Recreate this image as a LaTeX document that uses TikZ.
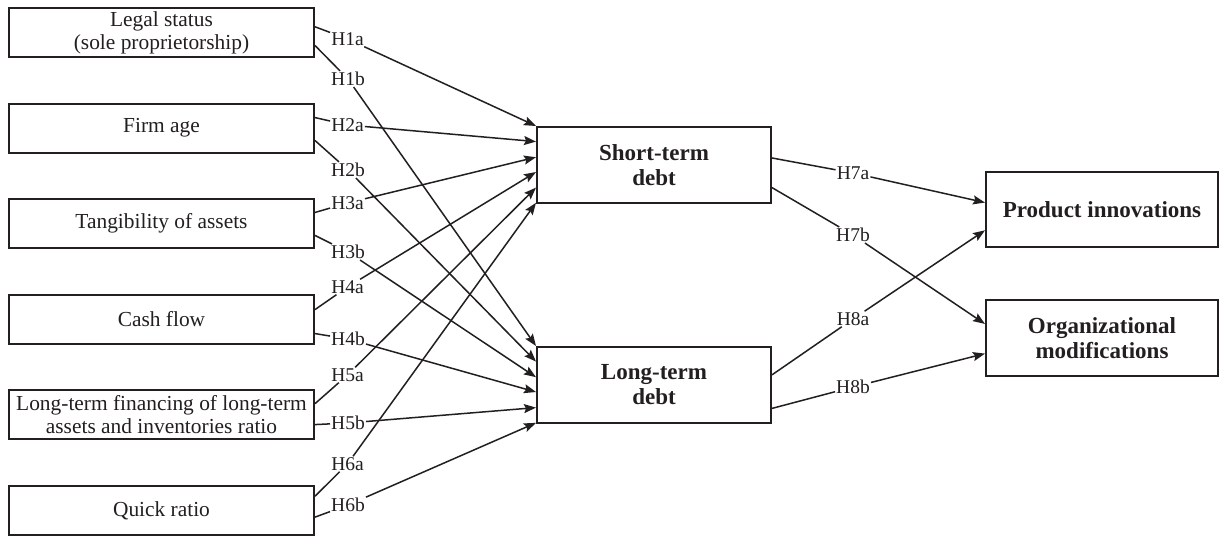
\documentclass[tikz,border=0pt]{standalone}
\usepackage{fontspec}
\setmainfont{Liberation Serif}
\usetikzlibrary{calc,arrows.meta}
\definecolor{ink}{HTML}{231F20}
\begin{document}
\begin{tikzpicture}[x=1pt,y=-1pt,
  lbox/.style={draw=ink, line width=2pt, minimum width=305pt, minimum height=49pt, inner sep=0pt, align=center, text=ink, font=\fontsize{21.4}{23}\selectfont},
  mbox/.style={draw=ink, line width=2pt, minimum width=234pt, minimum height=76pt, inner sep=0pt, align=center, text=ink, font=\fontsize{23}{25}\selectfont\bfseries},
  rbox/.style={draw=ink, line width=2pt, minimum width=232pt, inner sep=0pt, align=center, text=ink, font=\fontsize{23}{25}\selectfont\bfseries},
  hyp/.style={inner sep=1pt, text=ink, font=\fontsize{19.5}{20}\selectfont},
  conn/.style={draw=ink, line width=1.5pt},
  arr/.style={conn, -{Stealth[length=12pt,width=9pt,inset=2pt]}}
]
\path[fill=white, use as bounding box] (0,0) rectangle (1219,537);

% left boxes
\node[lbox] (b1) at (161.5,32.5) {Legal status\\(sole proprietorship)};
\node[lbox] (b2) at (161.5,128.1) {Firm age};
\node[lbox] (b3) at (161.5,223.7) {Tangibility of assets};
\node[lbox] (b4) at (161.5,319.3) {Cash flow};
\node[lbox] (b5) at (161.5,414.9) {Long-term financing of long-term\\assets and inventories ratio};
\node[lbox] (b6) at (161.5,510.5) {Quick ratio};

% middle boxes
\node[mbox] (st) at (654,165) {Short-term\\debt};
\node[mbox] (lt) at (654,385) {Long-term\\debt};

% right boxes
\node[rbox, minimum height=75pt] (pi) at (1102,209.5) {Product innovations};
\node[rbox, minimum height=76pt] (om) at (1102,338) {Organizational\\modifications};

% hypothesis labels
\node[hyp] (h1a) at (347.5,39) {H1a};
\node[hyp] (h1b) at (348,79) {H1b};
\node[hyp] (h2a) at (347.5,125) {H2a};
\node[hyp] (h2b) at (348,170) {H2b};
\node[hyp] (h3a) at (347.5,203) {H3a};
\node[hyp] (h3b) at (348,252) {H3b};
\node[hyp] (h4a) at (347.5,287) {H4a};
\node[hyp] (h4b) at (348,339) {H4b};
\node[hyp] (h5a) at (347.5,375) {H5a};
\node[hyp] (h5b) at (348,423) {H5b};
\node[hyp] (h6a) at (347.5,464) {H6a};
\node[hyp] (h6b) at (348,505) {H6b};
\node[hyp] (h7a) at (853,173) {H7a};
\node[hyp] (h7b) at (853,235) {H7b};
\node[hyp] (h8a) at (853,319) {H8a};
\node[hyp] (h8b) at (853,387) {H8b};

% left connectors to short-term debt
\draw[conn] ($(b1.north east)!0.388!(b1.south east)$) -- (h1a);
\draw[arr] (h1a) -- ($(st.north west)!0!(st.south west)$);
\draw[conn] ($(b2.north east)!0.294!(b2.south east)$) -- (h2a);
\draw[arr] (h2a) -- ($(st.north west)!0.2!(st.south west)$);
\draw[conn] ($(b3.north east)!0.28!(b3.south east)$) -- (h3a);
\draw[arr] (h3a) -- ($(st.north west)!0.4!(st.south west)$);
\draw[conn] ($(b4.north east)!0.31!(b4.south east)$) -- (h4a);
\draw[arr] (h4a) -- ($(st.north west)!0.59!(st.south west)$);
\draw[conn] ($(b5.north east)!0.28!(b5.south east)$) -- (h5a);
\draw[arr] (h5a) -- ($(st.north west)!0.79!(st.south west)$);
\draw[conn] ($(b6.north east)!0.22!(b6.south east)$) -- (h6a);
\draw[arr] (h6a) -- ($(st.north west)!0.985!(st.south west)$);

% left connectors to long-term debt
\draw[conn] ($(b1.north east)!0.755!(b1.south east)$) -- (h1b);
\draw[arr] (h1b) -- ($(lt.north west)!0!(lt.south west)$);
\draw[conn] ($(b2.north east)!0.743!(b2.south east)$) -- (h2b);
\draw[arr] (h2b) -- ($(lt.north west)!0.2!(lt.south west)$);
\draw[conn] ($(b3.north east)!0.73!(b3.south east)$) -- (h3b);
\draw[arr] (h3b) -- ($(lt.north west)!0.4!(lt.south west)$);
\draw[conn] ($(b4.north east)!0.78!(b4.south east)$) -- (h4b);
\draw[arr] (h4b) -- ($(lt.north west)!0.59!(lt.south west)$);
\draw[conn] ($(b5.north east)!0.69!(b5.south east)$) -- (h5b);
\draw[arr] (h5b) -- ($(lt.north west)!0.79!(lt.south west)$);
\draw[conn] ($(b6.north east)!0.63!(b6.south east)$) -- (h6b);
\draw[arr] (h6b) -- ($(lt.north west)!0.985!(lt.south west)$);

% right connectors
\draw[conn] ($(st.north east)!0.41!(st.south east)$) -- (h7a);
\draw[arr] (h7a) -- ($(pi.north west)!0.41!(pi.south west)$);
\draw[conn] ($(st.north east)!0.79!(st.south east)$) -- (h7b);
\draw[arr] (h7b) -- ($(om.north west)!0.32!(om.south west)$);
\draw[conn] ($(lt.north east)!0.37!(lt.south east)$) -- (h8a);
\draw[arr] (h8a) -- ($(pi.north west)!0.77!(pi.south west)$);
\draw[conn] ($(lt.north east)!0.80!(lt.south east)$) -- (h8b);
\draw[arr] (h8b) -- ($(om.north west)!0.70!(om.south west)$);
\end{tikzpicture}
\end{document}
